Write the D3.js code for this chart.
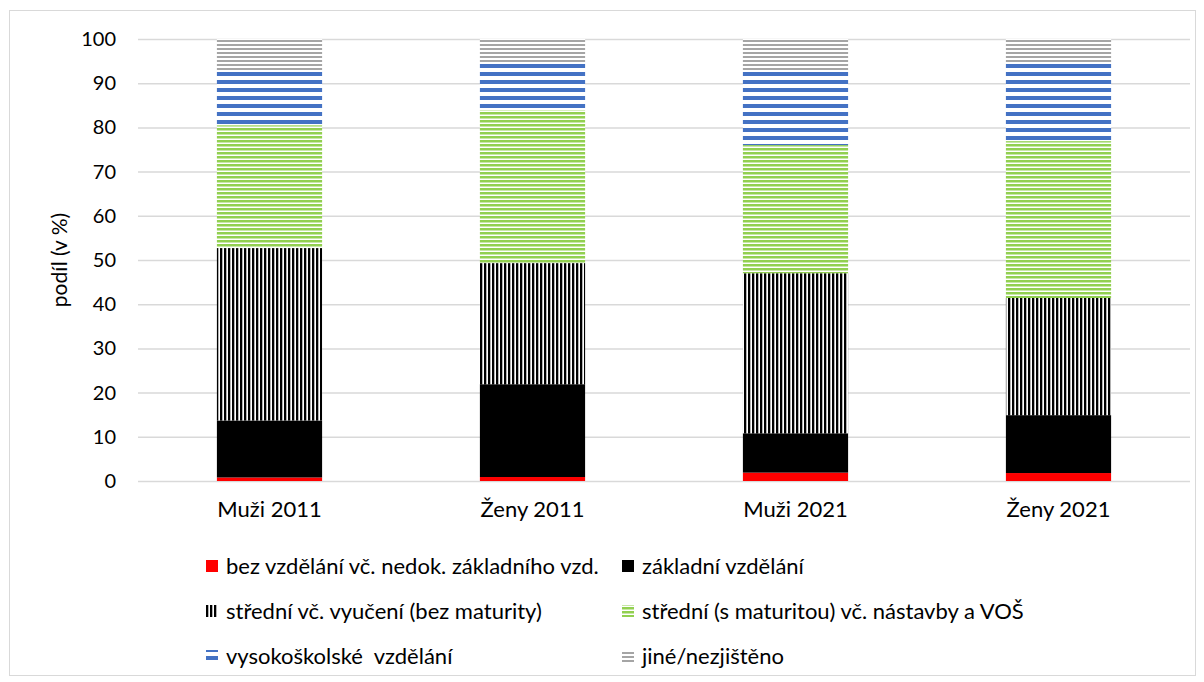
<!DOCTYPE html>
<html>
<head>
<meta charset="utf-8">
<script src="https://cdn.jsdelivr.net/npm/d3@7.9.0/dist/d3.min.js"></script>
<style>
  body { margin: 0; background: #fff; }
  svg { display: block; font-family: Lato, "Open Sans", sans-serif; }
</style>
</head>
<body>
<svg id="chart" width="1204" height="682"></svg>
<script>
const groups = ["Muži 2011", "Ženy 2011", "Muži 2021", "Ženy 2021"];
const levels = [
  "bez vzdělání vč. nedok. základního vzd.",
  "základní vzdělání",
  "střední vč. vyučení (bez maturity)",
  "střední (s maturitou) vč. nástavby a VOŠ",
  "vysokoškolské  vzdělání",
  "jiné/nezjištěno"
];
// shares in % per group, one array per level
const bezVzdelani = [0.8, 0.9, 1.9, 1.8];
const zakladni = [12.9, 21.0, 8.9, 13.1];
const vyuceni = [39.0, 27.4, 36.2, 26.5];
const maturita = [27.8, 34.6, 29.0, 35.5];
const vysokoskolske = [12.3, 10.9, 16.6, 17.8];
const jine = [7.2, 5.2, 7.4, 5.3];
const yTicks = [0, 10, 20, 30, 40, 50, 60, 70, 80, 90, 100];

const series = [bezVzdelani, zakladni, vyuceni, maturita, vysokoskolske, jine];

const svg = d3.select("#chart");
const margin = { left: 138, right: 14, top: 39, bottom: 201 };
const width = 1204, height = 682;

// outer chart border
svg.append("rect")
  .attr("x", 9.5).attr("y", 10.5)
  .attr("width", 1186).attr("height", 665)
  .attr("fill", "none").attr("stroke", "#d9d9d9");

// fill patterns
const defs = svg.append("defs");
function hPattern(id, color, period, thick) {
  const p = defs.append("pattern").attr("id", id)
    .attr("patternUnits", "userSpaceOnUse")
    .attr("width", 8).attr("height", period);
  p.append("rect").attr("width", 8).attr("height", period).attr("fill", "#fff");
  p.append("rect").attr("width", 8).attr("height", thick).attr("fill", color);
}
hPattern("pGreen", "#92d050", 4, 2.5);
hPattern("pBlue", "#4472c4", 8, 4);
hPattern("pGray", "#a5a5a5", 4, 2);
const pv = defs.append("pattern").attr("id", "pVert")
  .attr("patternUnits", "userSpaceOnUse")
  .attr("width", 4).attr("height", 8);
pv.append("rect").attr("width", 4).attr("height", 8).attr("fill", "#fff");
pv.append("rect").attr("width", 2.3).attr("height", 8).attr("fill", "#000");

const fills = ["#ff0000", "#000000", "url(#pVert)", "url(#pGreen)", "url(#pBlue)", "url(#pGray)"];

const x = d3.scaleBand()
  .domain(groups)
  .range([margin.left, width - margin.right])
  .paddingInner(0.6)
  .paddingOuter(0.3);

const y = d3.scaleLinear()
  .domain([0, 100])
  .range([height - margin.bottom, margin.top]);

// gridlines
svg.append("g")
  .selectAll("line")
  .data(yTicks)
  .join("line")
  .attr("x1", margin.left).attr("x2", width - margin.right)
  .attr("y1", d => y(d) + 0.5).attr("y2", d => y(d) + 0.5)
  .attr("stroke", "#d9d9d9").attr("stroke-width", 1.5);

// stacked data
const table = groups.map((g, i) => {
  const row = { group: g };
  levels.forEach((l, j) => { row[l] = series[j][i]; });
  return row;
});
const stacked = d3.stack().keys(levels)(table);

svg.append("g")
  .selectAll("g")
  .data(stacked)
  .join("g")
  .attr("fill", (d, i) => fills[i])
  .selectAll("rect")
  .data(d => d)
  .join("rect")
  .attr("x", d => x(d.data.group))
  .attr("width", x.bandwidth())
  .attr("y", d => y(d[1]))
  .attr("height", d => y(d[0]) - y(d[1]));

// y axis labels
const yAxis = svg.append("g")
  .attr("transform", `translate(${margin.left},0)`)
  .call(d3.axisLeft(y).tickValues(yTicks).tickSize(0).tickPadding(22));
yAxis.select(".domain").remove();
yAxis.selectAll("text")
  .attr("font-family", "Lato, sans-serif")
  .attr("font-size", 20)
  .attr("fill", "#000");

svg.append("text")
  .attr("transform", `translate(67,${y(50)}) rotate(-90)`)
  .attr("text-anchor", "middle")
  .attr("font-size", 21)
  .text("podíl (v %)");

// x axis labels
const xAxis = svg.append("g")
  .attr("transform", `translate(0,${y(0)})`)
  .call(d3.axisBottom(x).tickSize(0).tickPadding(20));
xAxis.select(".domain").remove();
xAxis.selectAll("text")
  .attr("font-family", "Lato, sans-serif")
  .attr("font-size", 22)
  .attr("fill", "#000");

// legend
const legendX = [206, 622];
const legendY = [566, 611, 656];
const leg = svg.append("g")
  .selectAll("g")
  .data(levels)
  .join("g")
  .attr("transform", (d, i) => `translate(${legendX[i % 2]},${legendY[Math.floor(i / 2)]})`);
leg.append("rect")
  .attr("x", 0).attr("y", -6)
  .attr("width", 12).attr("height", 12)
  .attr("fill", (d, i) => fills[i]);
leg.append("text")
  .attr("x", 20).attr("y", 8)
  .attr("font-size", 22)
  .style("white-space", "pre")
  .text(d => d);
</script>
</body>
</html>
